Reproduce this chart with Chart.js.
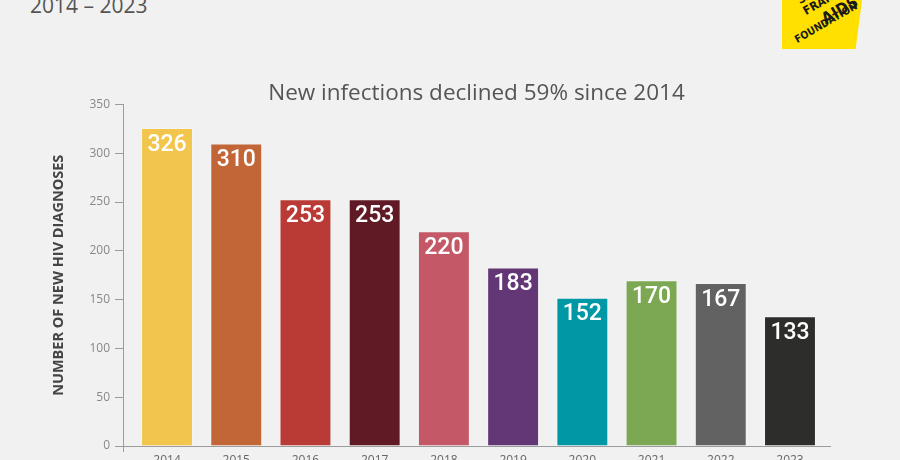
<!DOCTYPE html>
<html>
<head>
<meta charset="utf-8">
<script src="https://cdn.jsdelivr.net/npm/chart.js@4.4.1/dist/chart.umd.min.js"></script>
<style>
  html, body { margin: 0; padding: 0; overflow: hidden; background: #F0F1F0; width: 900px; height: 460px; }
  #wrap { position: absolute; left: 0; top: 0; width: 900px; height: 480px; }
  #hdr { position: absolute; left: 30px; top: -5px; font: 21px/21px "Open Sans", sans-serif; color: #555; white-space: nowrap; }
  #logo { position: absolute; left: 782px; top: 0; width: 80px; height: 49px; background: #FFE000;
          clip-path: polygon(0 0, 100% 0, 92% 100%, 0 100%); overflow: hidden; }
  #logo span { position: absolute; white-space: nowrap; color: #1a1a1a; font-family: "DejaVu Sans Condensed", "DejaVu Sans", sans-serif;
               font-weight: bold; transform-origin: 0 100%; transform: rotate(-30deg); line-height: 1; }
</style>
</head>
<body>
<div id="hdr">2014 – 2023</div>
<div id="logo">
  <span style="left:19px; top:-6px; font-size:12px;">SAN</span>
  <span style="left:25px; top:5px; font-size:12px;">FRANCISCO</span>
  <span style="left:45px; top:11px; font-size:16px;">AIDS</span>
  <span style="left:16px; top:34px; font-size:10.5px;">FOUNDATION</span>
</div>
<div id="wrap"><canvas id="c" width="900" height="480"></canvas></div>
<script>
const years = ['2014', '2015', '2016', '2017', '2018', '2019', '2020', '2021', '2022', '2023'];
const diagnoses = [326, 310, 253, 253, 220, 183, 152, 170, 167, 133];
const barColors = ['#F2C64C', '#C26537', '#BA3B35', '#601A25', '#C55866', '#633775', '#0098A5', '#7DA853', '#626262', '#2D2D2C'];
const yTickValues = [0, 50, 100, 150, 200, 250, 300, 350];
const chartTitle = 'New infections declined 59% since 2014';
const yAxisTitle = 'NUMBER OF NEW HIV DIAGNOSES';

const axisColor = '#9c9c9c';

const valueLabels = {
  id: 'valueLabels',
  afterDatasetsDraw(chart) {
    const ctx = chart.ctx;
    const meta = chart.getDatasetMeta(0);
    ctx.save();
    ctx.fillStyle = '#ffffff';
    ctx.font = '500 23px Roboto, sans-serif';
    ctx.textAlign = 'center';
    ctx.textBaseline = 'middle';
    meta.data.forEach((bar, i) => {
      ctx.fillText(String(diagnoses[i]), bar.x, bar.y + 17);
    });
    ctx.restore();
  }
};

const axisStub = {
  id: 'axisStub',
  afterDraw(chart) {
    const { ctx, chartArea } = chart;
    ctx.save();
    ctx.strokeStyle = axisColor;
    ctx.lineWidth = 1;
    ctx.beginPath();
    ctx.moveTo(Math.round(chartArea.left) + 0.5, chartArea.bottom);
    ctx.lineTo(Math.round(chartArea.left) + 0.5, chartArea.bottom + 6);
    ctx.stroke();
    ctx.restore();
  }
};

new Chart(document.getElementById('c'), {
  type: 'bar',
  data: {
    labels: years,
    datasets: [{
      data: diagnoses.map((v, i) => ({ x: i, y: v })),
      backgroundColor: barColors,
      borderColor: 'rgba(255,255,255,0.25)',
      borderWidth: 1,
      barPercentage: 0.75,
      categoryPercentage: 1
    }]
  },
  options: {
    responsive: false,
    animation: false,
    devicePixelRatio: 1,
    layout: { padding: { left: 40, right: 70, top: 82, bottom: 0 } },
    plugins: {
      legend: { display: false },
      tooltip: { enabled: false },
      title: {
        display: true,
        text: chartTitle,
        fullSize: false,
        color: '#555555',
        font: { family: 'Open Sans, sans-serif', size: 22.5, weight: 'normal', lineHeight: 1 },
        padding: 0
      }
    },
    scales: {
      x: {
        type: 'linear',
        min: -0.636,
        max: 9.578,
        offset: false,
        grid: { display: false, drawTicks: false, tickLength: 0 },
        border: { display: true, color: axisColor, width: 1 },
        ticks: {
          color: '#666666',
          font: { family: 'Open Sans, sans-serif', size: 12 },
          padding: 7.5,
          autoSkip: false,
          maxRotation: 0,
          callback: (v) => (years[v] !== undefined ? years[v] : '')
        },
        afterBuildTicks: (s) => { s.ticks = years.map((_, i) => ({ value: i })); },
        afterFit: (s) => { s.height = 34; }
      },
      y: {
        min: 0,
        max: 350,
        grid: { drawOnChartArea: false, drawTicks: true, tickLength: 8, color: axisColor },
        border: { display: true, color: axisColor, width: 1 },
        ticks: {
          color: '#888888',
          font: { family: 'Open Sans, sans-serif', size: 12 },
          padding: 5
        },
        afterBuildTicks: (s) => { s.ticks = yTickValues.map(v => ({ value: v })); },
        title: {
          display: true,
          text: yAxisTitle,
          color: '#444444',
          font: { family: 'Open Sans, sans-serif', size: 14.5, weight: 'bold', lineHeight: 1.2 },
          padding: { top: 10, bottom: 0 }
        },
        afterFit: (s) => { s.width = 83; }
      }
    }
  },
  plugins: [valueLabels, axisStub]
});
</script>
</body>
</html>
